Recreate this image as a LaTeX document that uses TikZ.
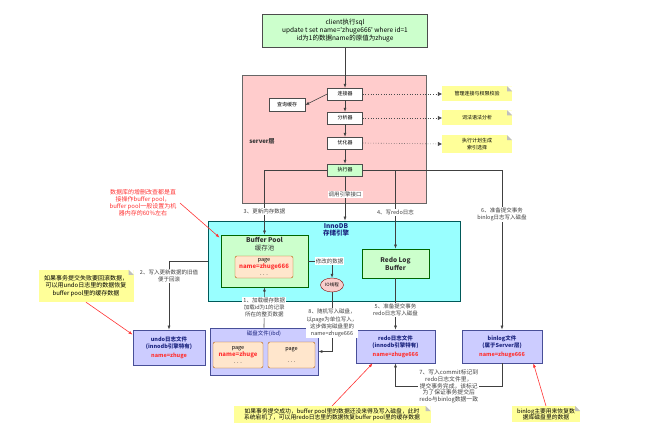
\documentclass[tikz,border=0pt]{standalone}
\usepackage{fontspec}
\setmainfont{Noto Sans CJK SC}
\usetikzlibrary{arrows.meta, shapes.geometric}

\definecolor{clientgreen}{HTML}{CCFFCC}
\definecolor{serverpink}{HTML}{FFCCCC}
\definecolor{innocyan}{HTML}{99FFFF}
\definecolor{filelilac}{HTML}{CCCCFF}
\definecolor{pagepeach}{HTML}{FFE6CC}
\definecolor{notey}{HTML}{FFFF99}
\definecolor{iopink}{HTML}{F8CECC}
\definecolor{titleblue}{HTML}{1A237E}
\definecolor{warnred}{HTML}{FF3333}

\begin{document}
\begin{tikzpicture}[x=1pt, y=-1pt, >={Latex[length=4pt,width=3pt]}, every node/.style={font=\fontsize{5.5}{7.2}\selectfont}]
    \tikzstyle{srvpart}=[draw=black!70, fill=white, minimum width=35pt, minimum height=12pt, inner sep=1pt, font=\fontsize{5}{6}\selectfont]
    \tikzstyle{mem}=[draw=green!40!black, fill=clientgreen, line width=0.8pt]
    \tikzstyle{logfile}=[draw=titleblue!80, fill=filelilac, line width=0.8pt, align=center, inner sep=1pt]
    \tikzstyle{pagebox}=[draw=orange!70!black, fill=pagepeach, rounded corners=2pt, align=center, inner sep=1pt]
    \tikzstyle{note}=[fill=notey, align=center, inner sep=3pt, font=\fontsize{6}{7.5}\selectfont]
    \tikzstyle{lbl}=[fill=white, align=center, inner sep=1pt, text=black!75]
    \tikzstyle{flow}=[->, line width=0.6pt, black!75]
    \tikzstyle{redflow}=[->, line width=0.6pt, warnred]

    \useasboundingbox (0,0) rectangle (650,425);

    % client and server layer
    \node[draw=black!70, fill=clientgreen, minimum width=165pt, minimum height=33pt, align=center, font=\fontsize{6.5}{8}\selectfont] (client) at (345,31) {client执行sql\\update t set name=\textquotesingle zhuge666\textquotesingle{} where id=1\\id为1的数据name的原值为zhuge};
    \node[draw=black!60, fill=serverpink, minimum width=184pt, minimum height=128pt] (server) at (334,139) {};
    \node[font=\bfseries\fontsize{6}{7}\selectfont, text=black!80] (serverlbl) at (262,141) {server层};

    \node[srvpart] (conn) at (345,94) {连接器};
    \node[srvpart, minimum width=36pt, minimum height=13pt] (qcache) at (287,105) {查询缓存};
    \node[srvpart] (parser) at (345,118) {分析器};
    \node[srvpart] (optim) at (345,143) {优化器};
    \node[srvpart, fill=clientgreen] (exec) at (345,170) {执行器};

    \draw[flow] (client) -- (conn);
    \draw[flow] (conn.west) -- (qcache.east);
    \draw[flow] (conn) -- (parser);
    \draw[flow] (parser) -- (optim);
    \draw[flow] (optim) -- (exec);

    \node[note, minimum width=70pt, minimum height=15pt, font=\fontsize{5}{6.5}\selectfont] (n1) at (477,94) {管理连接与权限校验};
    \node[note, minimum width=70pt, minimum height=15pt, font=\fontsize{5}{6.5}\selectfont] (n2) at (477,118) {词法语法分析};
    \node[note, minimum width=70pt, minimum height=16pt, font=\fontsize{5}{6.5}\selectfont] (n3) at (477,144) {执行计划生成\\索引选择};
    \draw[dotted, line width=0.6pt, black!70, -{Triangle[length=4pt,width=4pt]}] (conn.east) -- (n1.west);
    \draw[dotted, line width=0.6pt, black!70, -{Triangle[length=4pt,width=4pt]}] (parser.east) -- (n2.west);
    \draw[dotted, line width=0.6pt, black!70, -{Triangle[length=4pt,width=4pt]}] (optim.east) -- (n3.west);

    % InnoDB engine
    \node[draw=teal!70!black, fill=innocyan, line width=0.8pt, minimum width=252pt, minimum height=80pt] (innodb) at (334,261) {};
    \node[font=\bfseries\fontsize{6.5}{7.5}\selectfont, text=titleblue, align=center] (innolbl) at (336,230) {InnoDB\\存储引擎};

    \node[mem, minimum width=87pt, minimum height=52pt] (bp) at (264.5,261) {};
    \node[font=\bfseries\fontsize{6.5}{7.5}\selectfont, text=black!80, align=center] (bptitle) at (264.5,244) {Buffer Pool\\{\mdseries 缓存池}};
    \node[pagebox, minimum width=58pt, minimum height=22pt] (bppage) at (264,267) {page\\{\color{warnred}\bfseries\fontsize{6}{7.2}\selectfont name=zhuge666}\\. . .};

    \node[mem, minimum width=67pt, minimum height=29pt, align=center, font=\bfseries\fontsize{6.5}{8}\selectfont, text=black!80] (rlb) at (395.5,263.5) {Redo Log\\Buffer};
    \node[ellipse, draw=red!50!black, fill=iopink, minimum width=23pt, minimum height=14pt, inner sep=0pt, font=\fontsize{4.5}{5}\selectfont] (io) at (332,285) {IO线程};

    % files on disk
    \node[logfile, minimum width=108pt, minimum height=47pt] (disk) at (264,351.5) {};
    \node[text=titleblue] (disklbl) at (264,334) {磁盘文件(ibd)};
    \node[pagebox, minimum width=50pt, minimum height=26pt] (dpage1) at (238,355) {page\\{\color{warnred}\bfseries\fontsize{6}{7.2}\selectfont name=zhuge}\\. . .};
    \node[pagebox, minimum width=47pt, minimum height=26pt] (dpage2) at (291.5,355) {page\\[4pt]. . .};

    \node[logfile, minimum width=72pt, minimum height=35pt] (undo) at (169,347.5) {{\bfseries\color{titleblue}undo日志文件}\\{\bfseries\color{titleblue}(innodb引擎特有)}\\[2pt]{\color{warnred}\bfseries name=zhuge}};
    \node[logfile, minimum width=79pt, minimum height=33pt] (redo) at (395.5,346.5) {{\bfseries\color{titleblue}redo日志文件}\\{\bfseries\color{titleblue}(innodb引擎特有)}\\[2pt]{\color{warnred}\bfseries name=zhuge666}};
    \node[logfile, minimum width=80pt, minimum height=33pt] (binlog) at (502,346.5) {{\bfseries\color{titleblue}binlog文件}\\{\bfseries\color{titleblue}(属于Server层)}\\[2pt]{\color{warnred}\bfseries name=zhuge666}};

    % numbered steps
    \draw[flow] (disk.north) -- node[lbl] {1、加载缓存数据\\加载id为1的记录\\所在的整页数据} (bp.south);
    \draw[flow] (innodb.west) -| node[lbl, pos=0.61] {2、写入更新数据的旧值\\便于回滚} (undo.north);
    \draw[flow] (exec.west) -| node[lbl, pos=0.82] {3、更新内存数据} (bp.north);
    \draw[flow] (exec.south) -- node[lbl, pos=0.42] {调用引擎接口} (exec.south |- innodb.north);
    \draw[flow] (exec.east) -| node[lbl, pos=0.77] {4、写redo日志} (rlb.north);
    \draw[flow] (rlb.south) -- node[lbl, pos=0.62] {5、准备提交事务\\redo日志写入磁盘} (redo.north);
    \draw[flow] (exec.east) -| node[lbl, pos=0.64] {6、准备提交事务\\binlog日志写入磁盘} (binlog.north);
    \draw[flow] (binlog.south) -- ++(0,23) -| node[lbl, pos=0.25, font=\fontsize{5.8}{6.6}\selectfont] {7、写入commit标记到\\redo日志文件里，\\提交事务完成，该标记\\为了保证事务提交后\\redo与binlog数据一致} (redo.south);
    \draw[flow] (bp.east) -| node[lbl, pos=0.45] {修改的数据} (io.north);
    \draw[flow] (io.south) |- node[lbl, pos=0.26] {8、随机写入磁盘，\\以page为单位写入，\\这步做完磁盘里的\\name=zhuge666} (disk.east);

    % annotations
    \node[text=warnred, align=center, font=\fontsize{6}{7}\selectfont] (bpnote) at (143,203) {数据库的增删改查都是直\\接操作buffer pool，\\buffer pool一般设置为机\\器内存的60\%左右};
    \draw[redflow] (bpnote.east) -- ([xshift=-1pt,yshift=-3pt]bp.north west);

    \node[note, minimum width=95pt, minimum height=32pt] (undonote) at (86,286) {如果事务提交失败要回滚数据，\\可以用undo日志里的数据恢复\\buffer pool里的缓存数据};
    \draw[redflow] (undonote.south) -- ([yshift=-5pt]undo.north west);

    \node[note, anchor=north, minimum width=197pt, inner sep=2pt, font=\fontsize{5.8}{6.8}\selectfont] (redonote) at (332,406) {如果事务提交成功，buffer pool里的数据还没来得及写入磁盘，此时\\系统宕机了，可以用redo日志里的数据恢复buffer pool里的缓存数据};
    \draw[redflow] (redonote.north) -- ([xshift=17pt]redo.south west);

    \node[note, anchor=north, minimum width=68pt, inner sep=2pt, font=\fontsize{5.8}{6.8}\selectfont] (binnote) at (546,406) {binlog主要用来恢复数\\据库磁盘里的数据};
    \draw[redflow] (binnote.north) -- ([xshift=-9pt]binlog.south east);

    % folded corners of the notes
    \foreach \n in {n1,n2,n3,undonote,redonote,binnote} {
        \fill[white] ([xshift=-5pt]\n.north east) -- (\n.north east) -- ([yshift=-5pt]\n.north east) -- cycle;
        \fill[black!25] ([xshift=-5pt]\n.north east) -- ([yshift=-5pt]\n.north east) -- ([xshift=-5pt,yshift=-5pt]\n.north east) -- cycle;
    }
\end{tikzpicture}
\end{document}
